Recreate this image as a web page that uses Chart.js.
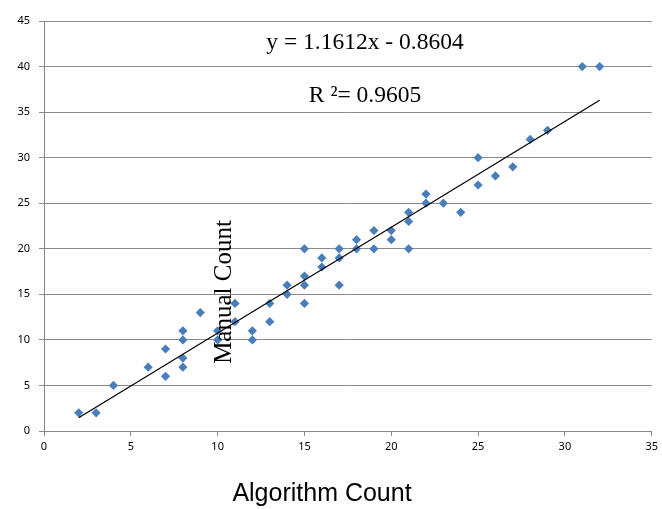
<!DOCTYPE html>
<html>
<head>
<meta charset="utf-8">
<script src="https://cdn.jsdelivr.net/npm/chart.js@4/dist/chart.umd.min.js"></script>
<style>
  html, body { margin: 0; padding: 0; background: #fff; }
  #wrap { width: 662px; height: 509px; }
</style>
</head>
<body>
<div id="wrap"><canvas id="scatterChart"></canvas></div>
<script>
// algorithm count (x) vs manual count (y)
const algorithmCount = [2, 3, 4, 6, 7, 7, 8, 8, 8, 8, 9, 10, 10, 11, 11, 12, 12, 13, 13, 14, 14,
  15, 15, 15, 15, 16, 16, 17, 17, 17, 18, 18, 19, 19, 20, 20, 21, 21, 21, 22, 22, 23, 24,
  25, 25, 26, 27, 28, 29, 31, 32];
const manualCount = [2, 2, 5, 7, 6, 9, 7, 8, 10, 11, 13, 10, 11, 12, 14, 10, 11, 12, 14, 15, 16,
  14, 16, 17, 20, 18, 19, 16, 19, 20, 20, 21, 20, 22, 21, 22, 20, 23, 24, 25, 26, 25, 24,
  27, 30, 28, 29, 32, 33, 40, 40];

// trendline as printed on the chart
const slope = 1.1612;
const intercept = -0.8604;
const rSquared = 0.9605;
const trendX = [2, 32];

const points = algorithmCount.map((x, i) => ({ x: x, y: manualCount[i] }));
const trendPoints = trendX.map(x => ({ x: x, y: slope * x + intercept }));

const gridColor = '#8a8a8a';

const labelsPlugin = {
  id: 'labels',
  afterDraw(chart) {
    const ctx = chart.ctx;
    ctx.save();
    ctx.fillStyle = '#000';
    ctx.textAlign = 'center';
    ctx.textBaseline = 'middle';
    ctx.font = '23.5px "Liberation Serif", "Times New Roman", serif';
    ctx.fillText('y = ' + slope + 'x - ' + Math.abs(intercept), 365, 43);
    ctx.fillText('R ²= ' + rSquared, 365, 96);
    ctx.font = '25px "Liberation Sans", Arial, sans-serif';
    ctx.fillText('Algorithm Count', 322, 494);
    ctx.translate(224, 292);
    ctx.rotate(-Math.PI / 2);
    ctx.font = '25px "Liberation Serif", "Times New Roman", serif';
    ctx.fillText('Manual Count', 0, 0);
    ctx.restore();
  }
};

const ctx = document.getElementById('scatterChart').getContext('2d');
const scatterChart = new Chart(ctx, {
  type: 'scatter',
  data: {
    datasets: [{
      label: 'Counts',
      data: points,
      pointStyle: 'rectRot',
      pointRadius: 4.6,
      pointBackgroundColor: '#4a7ebb',
      pointBorderColor: '#4a7ebb',
      pointBorderWidth: 0,
      order: 2
    }, {
      label: 'Trend',
      type: 'line',
      data: trendPoints,
      borderColor: '#000',
      borderWidth: 1.2,
      pointRadius: 0,
      fill: false,
      order: 1
    }]
  },
  options: {
    responsive: true,
    maintainAspectRatio: false,
    animation: false,
    layout: { padding: { top: 21, right: 6, left: 0, bottom: 0 } },
    plugins: {
      legend: { display: false },
      tooltip: { enabled: false }
    },
    scales: {
      x: {
        type: 'linear',
        min: 0,
        max: 35,
        ticks: {
          stepSize: 5,
          color: '#000',
          padding: 4,
          font: { family: '"Noto Sans", sans-serif', size: 11 }
        },
        grid: {
          drawOnChartArea: false,
          drawTicks: true,
          tickLength: 5,
          color: gridColor
        },
        border: { color: gridColor },
        afterFit(scale) { scale.height = 78; }
      },
      y: {
        min: 0,
        max: 45,
        ticks: {
          stepSize: 5,
          color: '#000',
          padding: 9,
          font: { family: '"Noto Sans", sans-serif', size: 11 }
        },
        grid: {
          drawTicks: true,
          tickLength: 5,
          color: gridColor
        },
        border: { color: gridColor },
        afterFit(scale) { scale.width = 44; }
      }
    }
  },
  plugins: [labelsPlugin]
});
</script>
</body>
</html>
